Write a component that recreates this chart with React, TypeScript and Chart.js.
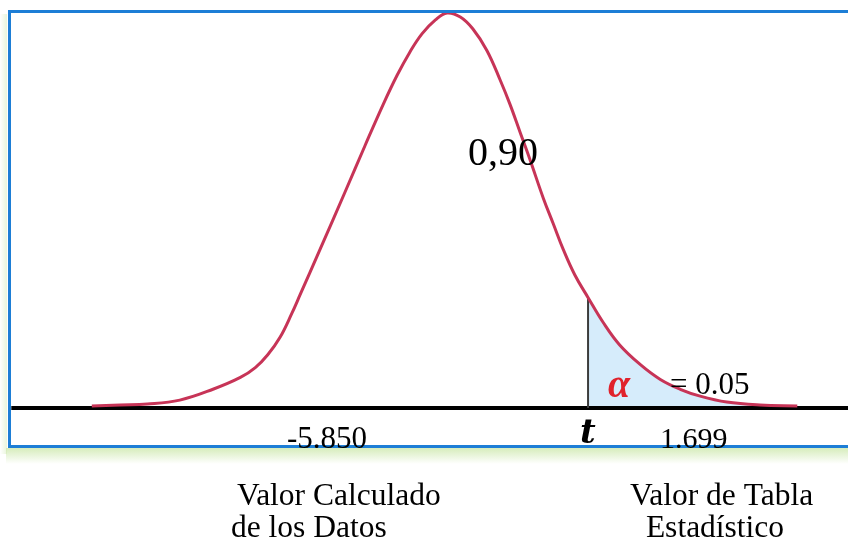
import React, { useEffect, useRef } from "react";
import { Chart, registerables } from "chart.js";

Chart.register(...registerables);

// Student-t like density curve (t value, density)
const curveT = [
  -4.28, -3.94, -3.61, -3.22, -2.82, -2.49, -2.31, -2.16, -2.01, -1.87, -1.77,
  -1.53, -1.23, -0.99, -0.77, -0.6, -0.45, -0.3, -0.14, 0, 0.16, 0.31, 0.48,
  0.64, 0.76, 0.88, 1.0, 1.16, 1.28, 1.4, 1.54, 1.7, 1.88, 2.08, 2.33, 2.57,
  2.81, 3.05, 3.37, 3.77, 4.22,
];
const curveDensity = [
  0.002, 0.003, 0.004, 0.008, 0.019, 0.031, 0.041, 0.054, 0.072, 0.096, 0.115,
  0.161, 0.219, 0.266, 0.308, 0.338, 0.361, 0.38, 0.394, 0.401, 0.397, 0.385,
  0.363, 0.333, 0.308, 0.28, 0.252, 0.213, 0.187, 0.161, 0.135, 0.112, 0.087,
  0.064, 0.044, 0.029, 0.019, 0.012, 0.006, 0.003, 0.002,
];

const criticalT = 1.699;
const criticalDensity = 0.112;
const baselineT = [-5.25, 4.84];

const labelConfidence = "0,90";
const labelAlpha = "α";
const labelAlphaValue = "= 0.05";
const labelT = "t";
const labelCalculated = "-5.850";
const labelTable = "1.699";
const captionLeft = [" Valor Calculado", "de los Datos"];
const captionRight = ["Valor de Tabla", " Estadístico"];

const SERIF = '"Liberation Serif", "Times New Roman", serif';

const framePlugin = {
  id: "frame",
  beforeDraw(chart: any) {
    const ctx = chart.ctx as CanvasRenderingContext2D;
    ctx.save();
    ctx.fillStyle = "#ffffff";
    ctx.fillRect(0, 0, chart.width, chart.height);
    // soft green glow under the frame
    const g = ctx.createLinearGradient(0, 448, 0, 464);
    g.addColorStop(0, "rgba(200,230,165,0.75)");
    g.addColorStop(1, "rgba(200,230,165,0)");
    ctx.fillStyle = g;
    ctx.fillRect(6, 448, chart.width, 16);
    const g2 = ctx.createLinearGradient(7, 0, 0, 0);
    g2.addColorStop(0, "rgba(205,232,175,0.45)");
    g2.addColorStop(1, "rgba(205,232,175,0)");
    ctx.fillStyle = g2;
    ctx.fillRect(0, 14, 7, 440);
    ctx.restore();
  },
  afterDraw(chart: any) {
    const ctx = chart.ctx as CanvasRenderingContext2D;
    ctx.save();
    // frame
    ctx.strokeStyle = "#1d7ed6";
    ctx.lineWidth = 3;
    ctx.beginPath();
    ctx.moveTo(chart.width + 5, 11.5);
    ctx.lineTo(9.5, 11.5);
    ctx.lineTo(9.5, 446.5);
    ctx.lineTo(chart.width + 5, 446.5);
    ctx.stroke();

    ctx.textBaseline = "alphabetic";
    ctx.textAlign = "left";
    ctx.fillStyle = "#000";

    ctx.font = `40px ${SERIF}`;
    ctx.fillText(labelConfidence, 468, 165);

    ctx.font = `bold italic 40px ${SERIF}`;
    ctx.fillStyle = "#e0222c";
    ctx.fillText(labelAlpha, 608, 397);

    ctx.fillStyle = "#000";
    ctx.font = `31px ${SERIF}`;
    ctx.fillText(labelAlphaValue, 670, 394);

    ctx.font = `bold italic 34px "DejaVu Serif", serif`;
    ctx.fillText(labelT, 580, 443);

    ctx.font = `30px ${SERIF}`;
    ctx.fillText(labelTable, 660, 448);
    ctx.font = `31px ${SERIF}`;
    ctx.fillText(labelCalculated, 287, 448);

    ctx.font = `31.5px ${SERIF}`;
    ctx.fillText(captionLeft[0], 229, 505);
    ctx.fillText(captionLeft[1], 231, 537);
    ctx.fillText(captionRight[0], 630, 505);
    ctx.fillText(captionRight[1], 638, 537);
    ctx.restore();
  },
};

export default function App() {
  const canvasRef = useRef<HTMLCanvasElement | null>(null);

  useEffect(() => {
    document.body.style.margin = "0";
    const canvas = canvasRef.current;
    if (!canvas) return;

    const curve = curveT.map((t, i) => ({ x: t, y: curveDensity[i] }));
    const tail = curve.filter((p) => p.x >= criticalT - 0.01);
    const baseline = baselineT.map((t) => ({ x: t, y: 0 }));
    const criticalLine = [
      { x: criticalT, y: 0 },
      { x: criticalT, y: criticalDensity },
    ];

    const chart = new Chart(canvas, {
      type: "scatter",
      data: {
        datasets: [
          {
            data: curve,
            showLine: true,
            borderColor: "#c73457",
            borderWidth: 3,
            pointRadius: 0,
            tension: 0.4,
            fill: false,
            order: 0,
          } as any,
          {
            data: criticalLine,
            showLine: true,
            borderColor: "#3c3c3c",
            borderWidth: 2,
            pointRadius: 0,
            fill: false,
            order: 1,
          },
          {
            data: baseline,
            showLine: true,
            borderColor: "#000000",
            borderWidth: 4,
            pointRadius: 0,
            fill: false,
            order: 2,
          },
          {
            data: tail,
            showLine: true,
            borderWidth: 0,
            borderColor: "rgba(0,0,0,0)",
            backgroundColor: "#d6ecfb",
            pointRadius: 0,
            tension: 0.4,
            fill: "origin",
            order: 3,
          } as any,
        ],
      },
      options: {
        animation: false,
        responsive: true,
        maintainAspectRatio: false,
        events: [],
        layout: { padding: 0 },
        plugins: {
          legend: { display: false },
          tooltip: { enabled: false },
          title: { display: false },
        },
        scales: {
          x: { type: "linear", display: false, min: -5.386, max: 4.831 },
          y: { type: "linear", display: false, min: -0.1381, max: 0.4142 },
        },
      },
      plugins: [framePlugin],
    });
    return () => chart.destroy();
  }, []);

  return (
    <div style={{ position: "fixed", left: 0, top: 0, width: 848, height: 544 }}>
      <canvas ref={canvasRef} />
    </div>
  );
}
